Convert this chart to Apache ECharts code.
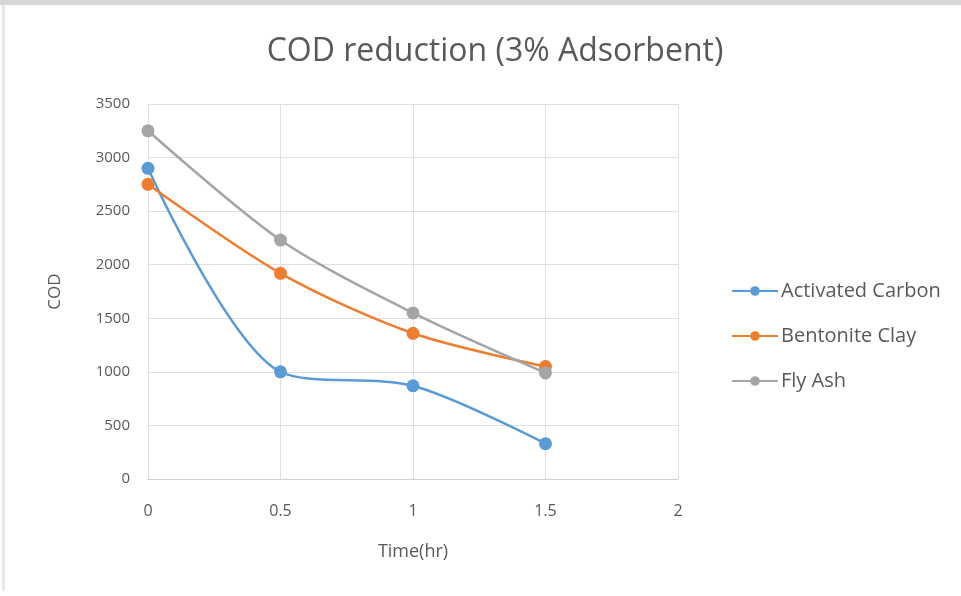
<!DOCTYPE html>
<html>
<head>
<meta charset="utf-8">
<script src="https://cdn.jsdelivr.net/npm/echarts@6/dist/echarts.min.js"></script>
<style>
  html, body { margin: 0; padding: 0; background: #ffffff; }
  #chart { width: 961px; height: 596px; }
</style>
</head>
<body>
<div id="chart"></div>
<script>
// Sampling times (hours) and COD readings for each adsorbent
const times = [0, 0.5, 1, 1.5];
const activatedCarbon = [2900, 1000, 870, 330];
const bentoniteClay = [2750, 1920, 1360, 1050];
const flyAsh = [3250, 2230, 1550, 990];
const seriesNames = ['Activated Carbon', 'Bentonite Clay', 'Fly Ash'];
const seriesColors = ['#5b9bd5', '#ed7d31', '#a5a5a5'];
const xTicks = [0, 0.5, 1, 1.5, 2];
const yTicks = [0, 500, 1000, 1500, 2000, 2500, 3000, 3500];

const font = '"Open Sans", "Liberation Sans", sans-serif';
const textColor = '#595959';

function pairs(vals) {
  return times.map((t, i) => [t, vals[i]]);
}

const chart = echarts.init(document.getElementById('chart'));
const seriesData = [activatedCarbon, bentoniteClay, flyAsh];

chart.setOption({
  animation: false,
  backgroundColor: '#ffffff',
  graphic: [
    { type: 'rect', shape: { x: 0, y: 0, width: 961, height: 5 }, style: { fill: '#d6d6d6' }, silent: true },
    { type: 'rect', shape: { x: 2, y: 5, width: 3, height: 586 }, style: { fill: '#e8e8e8' }, silent: true }
  ],
  title: {
    text: 'COD reduction (3% Adsorbent)',
    left: 490,
    top: 31,
    textAlign: 'center',
    textStyle: { fontFamily: font, fontSize: 32, fontWeight: 'normal', color: textColor }
  },
  legend: {
    orient: 'vertical',
    left: 726,
    top: 276,
    itemWidth: 46,
    itemHeight: 12,
    itemGap: 25,
    data: seriesNames,
    textStyle: { fontFamily: font, fontSize: 20, color: textColor, padding: [0, 0, 0, -2] }
  },
  grid: { left: 148, right: 283, top: 104, bottom: 117, containLabel: false },
  xAxis: {
    type: 'value',
    min: xTicks[0],
    max: xTicks[xTicks.length - 1],
    interval: 0.5,
    name: 'Time(hr)',
    nameLocation: 'middle',
    nameGap: 64,
    nameTextStyle: { fontFamily: font, fontSize: 18, color: textColor },
    axisLine: { show: true, lineStyle: { color: '#d0d0d0' } },
    axisTick: { show: false },
    axisLabel: { fontFamily: font, fontSize: 16, color: textColor, margin: 24 },
    splitLine: { show: true, lineStyle: { color: '#e0e0e0' } }
  },
  yAxis: {
    type: 'value',
    min: yTicks[0],
    max: yTicks[yTicks.length - 1],
    interval: 500,
    name: 'COD',
    nameLocation: 'middle',
    nameGap: 84,
    nameRotate: 90,
    nameTextStyle: { fontFamily: font, fontSize: 17, color: textColor },
    axisLine: { show: false },
    axisTick: { show: false },
    axisLabel: { fontFamily: font, fontSize: 15, color: textColor, margin: 18, formatter: v => String(v) },
    splitLine: { show: true, lineStyle: { color: '#e0e0e0' } }
  },
  series: seriesNames.map((name, i) => ({
    name: name,
    type: 'line',
    data: pairs(seriesData[i]),
    smooth: 0.3,
    symbol: 'circle',
    symbolSize: 13,
    color: seriesColors[i],
    lineStyle: { width: 2.5, color: seriesColors[i] },
    itemStyle: { color: seriesColors[i] }
  }))
});
</script>
</body>
</html>
